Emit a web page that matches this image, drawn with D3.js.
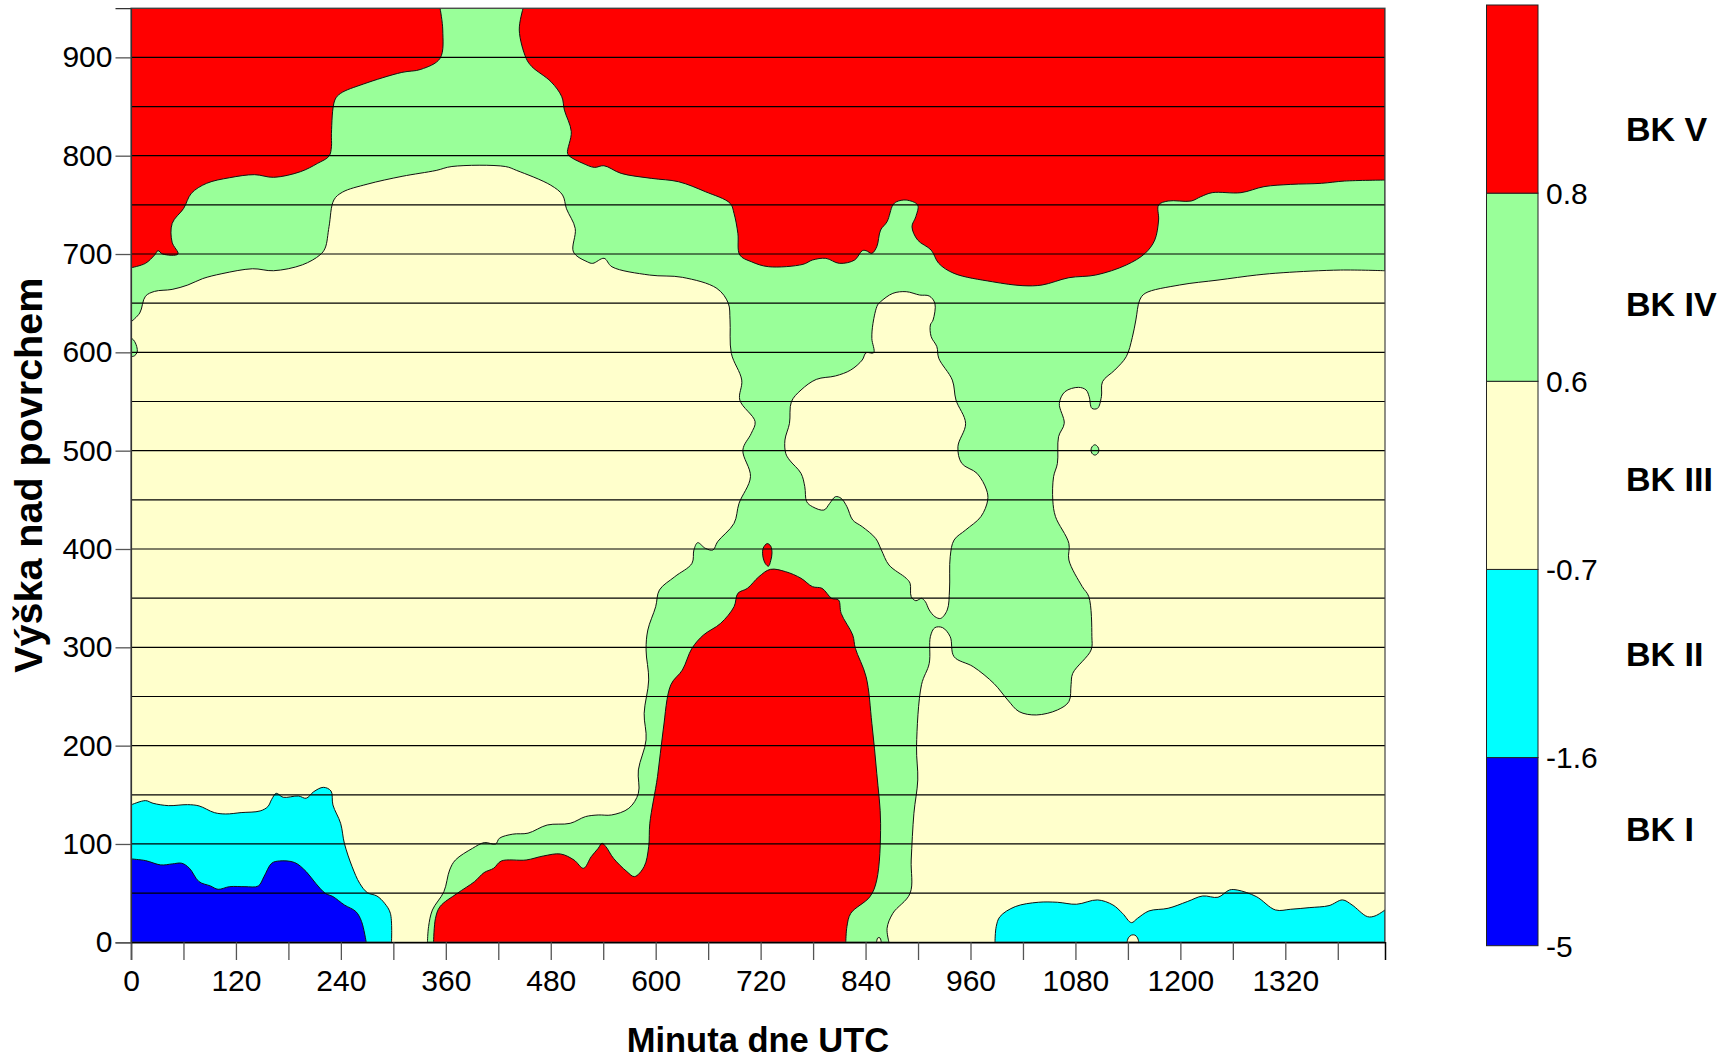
<!DOCTYPE html>
<html><head><meta charset="utf-8">
<script src="https://cdn.jsdelivr.net/npm/d3@7"></script>
<style>
html,body{margin:0;padding:0;background:#fff;}
svg{display:block;font-family:"Liberation Sans",Arial,sans-serif;}
</style></head>
<body>
<svg id="chart" width="1731" height="1058"></svg>
<script>
// ---------------- DATA ----------------
const classNames = ["BK I","BK II","BK III","BK IV","BK V"];
const classColors = ["#0000FF","#00FFFF","#FFFFCC","#99FF99","#FF0000"];
const classBreakLabels = ["-5","-1.6","-0.7","0.6","0.8"];
const xTicks = [0,60,120,180,240,300,360,420,480,540,600,660,720,780,840,900,960,1020,1080,1140,1200,1260,1320,1380];
const xTickLabels = [0,120,240,360,480,600,720,840,960,1080,1200,1320];
const yTicks = [0,100,200,300,400,500,600,700,800,900];
const gridLevels = [50,100,150,200,250,300,350,400,450,500,550,600,650,700,750,800,850,900];
const minuteMax = 1434, heightMax = 950;

// contour boundaries [minute, height]
const bk4WestEdge = [[0,631],[10,640],[16.5,657],[27,662],[47,664],[65,668.5],[82,675],[104,680],[139,685],[163,683],[196,689],[216,699],[222,706],[226.5,728],[232,755],[242,763],[270,771],[310,779],[349,785],[367,789],[428,789],[441,785],[480,770],[493.5,760],[498,746],[508,726],[506,702],[522,692],[528,690.5],[541,695.6],[550,687],[593,678.6],[630.5,676.3],[670,665],[683,650],[685,633],[686.5,599],[698.4,571.8],[696.2,551.5],[713.7,529.5],[709.3,517.6],[699.7,500.7],[708.4,473.5],[695.3,446.4],[689.6,426.1],[670.8,407.4],[665.5,399],[656.8,400.7],[648,406.4],[643.7,399],[641.5,385.4],[621.8,371.8],[604.3,358.3],[600,341.3],[591,317.6],[589,297.3],[592,266.8],[586.8,232.9],[589,205.8],[580.2,175.3],[580.2,151.5],[569.3,136.3],[549.6,129.5],[534.3,129.5],[519.7,127.8],[502.2,121],[476,119.3],[454,111],[436.6,110],[421.3,105.8],[417,100],[404,101.4],[390.6,95.6],[371,83.7],[364.4,73.6],[357.8,51.5],[344.7,32.9],[340.3,16],[339,0]];
const bk4EastEdge = [[866.8,0],[864.6,14.2],[871.2,29.5],[890.9,49.8],[892.2,83.7],[895.3,131.2],[899.7,165.1],[898.3,199],[904,262],[912.8,283.7],[914.1,310.8],[919.3,320],[928.1,320],[936.8,310.8],[941.2,290.5],[963.1,280.3],[987,263],[1002.5,246.5],[1015.6,234.6],[1035.3,231.2],[1059.4,236.3],[1072.5,244.8],[1075,262],[1076.9,273.5],[1097.9,297.3],[1098.8,310.8],[1095.3,351.5],[1087.8,361.7],[1072.5,388.8],[1072.5,405.7],[1057.2,432.9],[1054.1,449.8],[1055,473.5],[1059.4,487.1],[1060.7,514.2],[1067.2,527.8],[1061.6,548.1],[1068.1,560],[1083.4,564.4],[1092.2,561.7],[1095.7,554.9],[1098.8,543.1],[1105.3,543.1],[1109.7,554.9],[1111,570.2],[1125,582],[1138.1,595.6],[1145,615],[1149.1,632.9],[1153.5,653.2],[1159.7,660],[1199.2,668.5],[1243,673.5],[1286.8,678.6],[1317.5,681],[1383.2,683.7],[1434,683]];
const bk3IslandEdge = [[857.2,651.5],[871.2,660],[886.5,661.7],[901.8,658.3],[912.8,657.3],[919.3,649.8],[917.2,632.9],[914.1,627.8],[915,616],[921.5,605.8],[923.7,594],[939.2,571.8],[943.4,551.5],[954.4,527.8],[945.6,504],[950,487.1],[967.5,476.9],[978.4,460],[979.7,449.8],[971.9,432.9],[954.4,419.3],[941.2,409.1],[936.8,392.2],[936,358.3],[933.4,338],[925.9,329.4],[919.3,331.2],[912.8,338],[908.4,346.4],[904,349.8],[897.5,347.4],[892.2,351.5],[890.9,365.1],[886.5,370.2],[866.8,383.7],[858.1,399],[851.5,410.8],[836.2,422.7],[825.3,429.5],[818.7,443],[812.1,451.5],[805.6,453.2],[799,446.4],[792.4,439.6],[779.3,443],[772.7,448.1],[770.5,463.4],[766.2,476.9],[753,490.5],[748.7,497.3],[747.8,510.8],[753,527.8],[755.2,549.8],[766.2,561.7],[783.7,572.5],[805.6,576],[823,582],[836.2,592.2],[840.6,599.6],[849.3,599.6],[847.2,614],[848.5,629.5],[853.7,648.1]];
const bk4WestBlob = [[0,614.5],[3,612.5],[6.5,606],[7,600],[4,596.5],[0,595.5]];
const bk4DotEdge = [[1102.3,506],[1105.5,504],[1106.8,500.7],[1105.5,497.2],[1102.3,495.5],[1099,497.2],[1097.8,500.7],[1099,504]];
const bk5NorthWestEdge = [[0,686],[16.5,690.5],[27,699],[30.9,703.4],[36.2,700],[53.7,700],[47,712],[47.1,731.2],[60.2,746.4],[69,761.7],[86.5,771.9],[112.8,777.6],[141.2,780.7],[163.1,778],[193.7,783.7],[213.4,792.2],[226.5,799.6],[229.2,809.1],[229.2,822.7],[233.1,856.6],[239.7,863.4],[265.9,872.9],[309.7,884.7],[331.5,887.8],[353.4,899],[356.5,927.8],[353.4,950]];
const bk5NorthEastEdge = [[448.4,950],[444,927.8],[451.9,899],[458.5,890.5],[480.3,875.2],[492.6,860],[495.6,846.4],[503.5,824.4],[499.2,802.4],[502.2,799],[516.8,792.2],[529.9,788.1],[540.8,789.8],[560.5,782],[595.5,776.9],[626.2,773.5],[656.8,763.4],[685.2,751.5],[689.6,741.3],[694,721],[696.2,699],[709.3,692.2],[729,687.1],[768.4,689.5],[779.3,693.9],[794.6,695.6],[810,690.5],[827.5,693.9],[836.2,703.4],[840.6,703.4],[847.2,700.7],[852.8,707.4],[857.2,724.4],[864.6,732.9],[871.2,749.8],[875.6,753.2],[886.5,754.9],[899.6,749.8],[897.5,738],[893.1,727.8],[899.6,714.2],[915,704],[923.7,690.5],[941.2,680.3],[985,671.8],[1020,667.8],[1041.9,668.5],[1072.5,675.9],[1103.1,678.6],[1138.1,688.8],[1159.7,700.7],[1170.7,714.2],[1175.1,734.6],[1175.1,749.8],[1186,753.9],[1212.3,753.9],[1223.3,758.3],[1236.4,762.4],[1269.3,762.4],[1295.6,768.5],[1326.2,770.8],[1361.3,771.9],[1387.6,774.2],[1434,775.2]];
const bk5HillEdge = [[346,0],[348.2,24.4],[353.4,36.3],[373.1,49.8],[392.8,61.7],[403.8,70.9],[414.7,75.3],[423.5,82.7],[451.9,83.7],[471.6,87.8],[491.3,89.8],[506.6,83.7],[517.5,75.3],[526.3,87.1],[534.3,95.6],[538.6,100.7],[543,97.3],[551.8,85.4],[567.1,71.9],[575.8,66.8],[586.8,77],[592,97.3],[593.3,121],[602.1,168.5],[608.6,216],[617.4,262],[630.5,276.9],[641.5,299],[654.6,312.5],[674.3,324.4],[689.6,341.3],[694,354.9],[704.9,360],[718,371.8],[731.2,379.3],[748.7,376.9],[766.2,370.2],[779.3,361.7],[790.2,360],[801.2,349.8],[809.1,348.1],[812.1,334.5],[825.3,312.5],[828.3,299],[840.6,270.1],[847.2,222.7],[852.8,171.9],[857.2,121],[852.8,63.4],[845,46.4],[823.1,29.5],[818.7,16],[817.4,0]];
const bk5Drop = [[727.5,405.5],[731.5,403],[733,396],[731.5,388],[729,382.5],[725.5,385],[722.5,393],[723,401]];
const bk2WestEdge = [[0,139.7],[16.5,144.1],[25.2,141.4],[42.7,139],[64.6,140],[77.8,138.7],[95.3,131.9],[108.4,130.5],[125.9,131.9],[147.7,133.6],[156.5,138],[160.9,145.4],[166.1,151.5],[174,147.5],[191.5,148.8],[200.3,146.5],[209,153.2],[220,157.6],[228.7,153.9],[230.9,139.7],[239.7,121],[244,100.7],[252.8,77],[261.5,60],[270.3,50.5],[281.2,47.1],[290,39.7],[296.6,29.5],[297.9,0]];
const bk1WestEdge = [[0,84.8],[16.5,83.1],[34,78.7],[47.1,79.7],[58.1,80.4],[66.8,75.3],[77.8,61.7],[90.9,57.3],[99.6,53.9],[112.8,56.6],[130.3,56.6],[145.6,57.3],[152.1,66.8],[160.9,80.4],[169.6,82.7],[187.2,81.1],[200.3,71.9],[211.2,60],[222.2,49.8],[230.9,46.5],[244,38],[257.2,31.2],[263.7,21],[269,0]];
const bk2EastEdge = [[988,0],[989.4,16],[993.7,26.1],[1011.2,36.3],[1037.5,40.7],[1059.4,40.7],[1081.3,38.7],[1105.3,43.1],[1122.8,38],[1133.8,29.5],[1144,20],[1151,24.4],[1164.1,31.9],[1186,34.6],[1207.9,41.4],[1225.5,47.1],[1243,45.8],[1256.1,53.2],[1264.9,53.2],[1286.8,46.5],[1308.7,32.9],[1326.2,33.6],[1348.1,35.3],[1370,37.3],[1385.4,43.1],[1396.3,38],[1413.9,26.1],[1422.6,26.8],[1434,32.9]];
const bk3PocketEdge = [[1139,0],[1140.5,4.5],[1144,7.3],[1148,7.3],[1151,4.5],[1152.5,0]];
const bk3SpeckEdge = [[852.5,0],[854,4.5],[856.5,4.5],[858,0]];

// ---------------- LAYOUT ----------------
const svg = d3.select("#chart");
const x = d3.scaleLinear().domain([0, minuteMax]).range([131, 1385]);
const y = d3.scaleLinear().domain([0, heightMax]).range([942.3, 8.2]);
const col = i => classColors[i];

const lineC = d3.line().x(d => x(d[0])).y(d => y(d[1])).curve(d3.curveCatmullRom.alpha(0.5));
const lineClosed = d3.line().x(d => x(d[0])).y(d => y(d[1])).curve(d3.curveCatmullRomClosed.alpha(0.5));
function build(parts) {
  let s = "";
  parts.forEach((p, i) => {
    let seg = p.curve ? lineC(p.pts) : p.pts.map(q => `L${x(q[0])},${y(q[1])}`).join("");
    seg = (i === 0 ? "M" : "L") + seg.slice(1);
    s += seg;
  });
  return s + "Z";
}

svg.append("defs").append("clipPath").attr("id", "plotClip")
  .append("rect").attr("x", x(0)).attr("y", y(heightMax)).attr("width", x(minuteMax) - x(0)).attr("height", y(0) - y(heightMax));

const g = svg.append("g").attr("clip-path", "url(#plotClip)");
g.append("rect").attr("x", x(0)).attr("y", y(heightMax)).attr("width", x(minuteMax) - x(0)).attr("height", y(0) - y(heightMax)).attr("fill", col(2));

const shapes = [
  {fill: col(3), d: build([{curve:true, pts: bk4WestEdge}, {curve:true, pts: bk4EastEdge}, {curve:false, pts: [[minuteMax, heightMax], [0, heightMax]]}])},
  {fill: col(2), d: lineClosed(bk3IslandEdge)},
  {fill: col(3), d: build([{curve:true, pts: bk4WestBlob}])},
  {fill: col(3), d: lineClosed(bk4DotEdge)},
  {fill: col(4), d: build([{curve:true, pts: bk5NorthWestEdge}, {curve:false, pts: [[0, heightMax]]}])},
  {fill: col(4), d: build([{curve:true, pts: bk5NorthEastEdge}, {curve:false, pts: [[minuteMax, heightMax]]}])},
  {fill: col(4), d: build([{curve:true, pts: bk5HillEdge}])},
  {fill: col(4), d: lineClosed(bk5Drop)},
  {fill: col(2), d: build([{curve:true, pts: bk3SpeckEdge}])},
  {fill: col(1), d: build([{curve:false, pts: [[0, 0]]}, {curve:true, pts: bk2WestEdge}])},
  {fill: col(0), d: build([{curve:false, pts: [[0, 0]]}, {curve:true, pts: bk1WestEdge}])},
  {fill: col(1), d: build([{curve:true, pts: bk2EastEdge}, {curve:false, pts: [[minuteMax, 0]]}])},
  {fill: col(2), d: build([{curve:true, pts: bk3PocketEdge}])}
];
g.selectAll("path.region").data(shapes).join("path").attr("class", "region")
  .attr("d", d => d.d).attr("fill", d => d.fill)
  .attr("stroke", "#111").attr("stroke-width", 1).attr("stroke-linejoin", "round");

// grid lines
g.selectAll("line.grid").data(gridLevels).join("line").attr("class", "grid")
  .attr("x1", x(0)).attr("x2", x(minuteMax)).attr("y1", d => y(d)).attr("y2", d => y(d))
  .attr("stroke", "#000").attr("stroke-width", 1.2);

// frame
svg.append("rect").attr("x", x(0)).attr("y", y(heightMax)).attr("width", x(minuteMax) - x(0)).attr("height", y(0) - y(heightMax))
  .attr("fill", "none").attr("stroke", "#444").attr("stroke-width", 1.2);

// axes
const xAxis = d3.axisBottom(x).tickValues(xTicks).tickSize(17.7).tickPadding(10)
  .tickFormat(d => xTickLabels.includes(d) ? String(d) : "");
const gx = svg.append("g").attr("transform", `translate(0,${y(0)})`).call(xAxis);
gx.select(".domain").attr("stroke", "#000").attr("stroke-width", 1.5);
gx.selectAll(".tick line").attr("stroke", "#555").attr("stroke-width", 1.3);
gx.selectAll(".tick text").attr("font-size", 30).attr("fill", "#000").attr("font-family", "'Liberation Sans', Arial, sans-serif");

const yAxis = d3.axisLeft(y).tickValues(yTicks).tickSize(15.5).tickPadding(3);
const gy = svg.append("g").attr("transform", `translate(${x(0)},0)`).call(yAxis);
gy.select(".domain").attr("stroke", "#333").attr("stroke-width", 1.2);
gy.selectAll(".tick line").attr("stroke", "#555").attr("stroke-width", 1.3);
gy.selectAll(".tick text").attr("font-size", 30).attr("fill", "#000").attr("font-family", "'Liberation Sans', Arial, sans-serif");

// titles
svg.append("text").attr("x", (x(0) + x(minuteMax)) / 2).attr("y", 1052)
  .attr("text-anchor", "middle").attr("font-weight", "bold").attr("font-size", 34.5)
  .text("Minuta dne UTC");
svg.append("text").attr("transform", `translate(42,${(y(0) + y(heightMax)) / 2}) rotate(-90)`)
  .attr("text-anchor", "middle").attr("font-weight", "bold").attr("font-size", 39.5)
  .text("Výška nad povrchem");

// colour bar
const cb = d3.scaleLinear().domain([0, classNames.length]).range([945.7, 5]);
const cbg = svg.append("g");
cbg.selectAll("rect").data(classNames).join("rect")
  .attr("x", 1486.5).attr("width", 51.5)
  .attr("y", (d, i) => cb(i + 1)).attr("height", (d, i) => cb(i) - cb(i + 1))
  .attr("fill", (d, i) => col(i)).attr("stroke", "#222").attr("stroke-width", 1);
cbg.selectAll("text.brk").data(classBreakLabels).join("text").attr("class", "brk")
  .attr("x", 1546).attr("y", (d, i) => cb(i)).attr("dy", "0.36em")
  .attr("font-size", 30).text(d => d);
const lab = d3.scalePoint().domain(classNames).range([829, 129]);
cbg.selectAll("text.cls").data(classNames).join("text").attr("class", "cls")
  .attr("x", 1626).attr("y", d => lab(d)).attr("dy", "0.36em")
  .attr("font-size", 34).attr("font-weight", "bold").text(d => d);
</script>
</body></html>
